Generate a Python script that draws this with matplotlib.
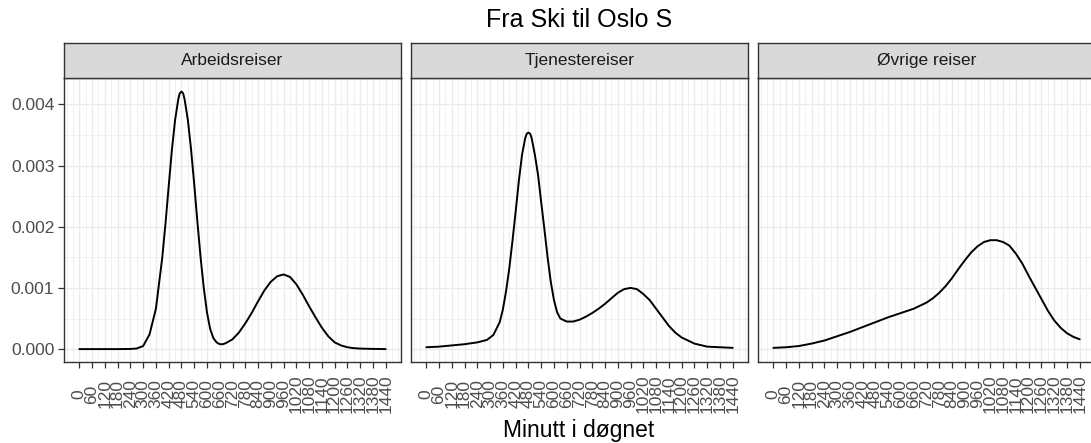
import matplotlib

matplotlib.use("Agg")

import matplotlib.pyplot as plt
from matplotlib.ticker import MultipleLocator

plt.rcParams["font.family"] = ["Liberation Sans", "DejaVu Sans"]

TITLE = "Fra Ski til Oslo S"
XLABEL = "Minutt i døgnet"
PANELS = ["Arbeidsreiser", "Tjenestereiser", "Øvrige reiser"]

# density curves (minute of day -> density)
arbeid_min = [0, 60, 120, 180, 240, 270, 300, 330, 360, 390, 405, 420, 435, 450,
              465, 472, 480, 488, 495, 510, 525, 540, 555, 570, 585, 600, 615, 630,
              645, 660, 675, 690, 720, 750, 780, 810, 840, 870, 900, 930, 960, 990,
              1020, 1050, 1080, 1110, 1140, 1170, 1200, 1230, 1260, 1290, 1320,
              1380, 1440]
arbeid_dens = [0, 0, 0, 0, 0.000002, 0.00001, 0.00005, 0.00024, 0.00066, 0.00150,
               0.00205, 0.00266, 0.00325, 0.00374, 0.00408, 0.00418, 0.00421,
               0.00418, 0.00408, 0.00375, 0.00327, 0.00270, 0.00208, 0.00150,
               0.00100, 0.00060, 0.00033, 0.00018, 0.00011, 0.00008, 0.00008,
               0.00010, 0.00016, 0.00027, 0.00042, 0.00059, 0.00078, 0.00096,
               0.00110, 0.00119, 0.00122, 0.00118, 0.00106, 0.00089, 0.00070,
               0.00052, 0.00035, 0.00021, 0.00011, 0.00006, 0.00003, 0.000015,
               0.000008, 0.000003, 0]

tjeneste_min = [0, 60, 120, 180, 240, 285, 315, 345, 360, 375, 390, 405, 420, 435,
                450, 465, 472, 480, 488, 495, 510, 525, 540, 555, 570, 585, 600,
                615, 630, 660, 690, 720, 750, 780, 810, 840, 870, 900, 930, 960,
                990, 1020, 1050, 1080, 1110, 1140, 1170, 1200, 1260, 1320, 1380,
                1440]
tjeneste_dens = [0.00003, 0.00004, 0.00006, 0.00008, 0.00011, 0.00015, 0.00023,
                 0.00044, 0.00065, 0.00095, 0.00132, 0.00177, 0.00225, 0.00275,
                 0.00318, 0.00345, 0.00352, 0.00354, 0.00352, 0.00345, 0.00318,
                 0.00285, 0.00240, 0.00196, 0.00150, 0.00110, 0.00080, 0.00060,
                 0.00050, 0.00045, 0.00045, 0.00048, 0.00053, 0.00059, 0.00066,
                 0.00074, 0.00083, 0.00092, 0.00098, 0.00100, 0.00098, 0.00090,
                 0.00080, 0.00066, 0.00052, 0.00038, 0.00027, 0.00019, 0.00009,
                 0.00004, 0.00003, 0.00002]

ovrige_min = [0, 60, 120, 180, 240, 300, 360, 420, 480, 540, 600, 660, 720, 750,
              780, 810, 840, 870, 900, 930, 960, 990, 1020, 1050, 1080, 1110,
              1140, 1170, 1200, 1230, 1260, 1290, 1320, 1350, 1380, 1410, 1440]
ovrige_dens = [0.00002, 0.00003, 0.00005, 0.00009, 0.00014, 0.00021, 0.00028,
               0.00036, 0.00044, 0.00052, 0.00059, 0.00066, 0.00076, 0.00083,
               0.00092, 0.00103, 0.00116, 0.00131, 0.00145, 0.00158, 0.00168,
               0.00175, 0.00178, 0.00178, 0.00175, 0.00169, 0.00156, 0.00140,
               0.00120, 0.00101, 0.00082, 0.00063, 0.00047, 0.00035, 0.00026,
               0.00020, 0.00016]

SERIES = [(arbeid_min, arbeid_dens), (tjeneste_min, tjeneste_dens),
          (ovrige_min, ovrige_dens)]

X_TICKS = list(range(0, 1441, 60))
Y_TICKS = [0.0, 0.001, 0.002, 0.003, 0.004]

BORDER = "#333333"
TEXT = "#4D4D4D"
GRID = "#EBEBEB"
STRIP = "#D9D9D9"

W, H = 1091, 443
fig = plt.figure(figsize=(W / 100, H / 100), dpi=100, facecolor="white")

lefts = [64, 411, 758]
pw = 337
top, bottom, strip_top = 78, 362, 43

for i, (name, (xs, ys)) in enumerate(zip(PANELS, SERIES)):
    ax = fig.add_axes([lefts[i] / W, 1 - bottom / H, pw / W, (bottom - top) / H])
    ax.set_facecolor("white")
    ax.plot(xs, ys, color="black", lw=1.4, solid_capstyle="round",
            solid_joinstyle="round", zorder=3)
    ax.set_xlim(-72, 1512)
    ax.set_ylim(-0.000211, 0.004431)

    ax.set_xticks(X_TICKS)
    ax.set_xticklabels([str(t) for t in X_TICKS], rotation=90, va="center",
                       color=TEXT, fontsize=12.5)
    ax.xaxis.set_minor_locator(MultipleLocator(30))
    ax.yaxis.set_minor_locator(MultipleLocator(0.0005))
    ax.set_yticks(Y_TICKS)
    ax.grid(True, which="major", color=GRID, lw=1.0, zorder=0)
    ax.grid(True, which="minor", color=GRID, lw=0.5, zorder=0)
    ax.set_axisbelow(True)
    ax.tick_params(axis="x", which="major", length=4, width=0.9, color=BORDER,
                   pad=19)
    ax.tick_params(which="minor", length=0)
    if i == 0:
        ax.set_yticklabels([f"{v:.3f}" for v in Y_TICKS], color=TEXT, fontsize=12.5)
        ax.tick_params(axis="y", which="major", length=4, width=0.9, color=BORDER,
                       pad=3)
    else:
        ax.tick_params(axis="y", which="major", length=0, labelleft=False)
    for sp in ax.spines.values():
        sp.set_color(BORDER)
        sp.set_linewidth(1.0)

    sax = fig.add_axes([lefts[i] / W, 1 - top / H, pw / W, (top - strip_top) / H])
    sax.set_facecolor(STRIP)
    sax.set_xticks([])
    sax.set_yticks([])
    for sp in sax.spines.values():
        sp.set_color(BORDER)
        sp.set_linewidth(1.0)
    sax.text(0.5, 0.5, name, transform=sax.transAxes, ha="center", va="center",
             color="#1A1A1A", fontsize=12.5)

fig.text(579 / W, 1 - 20 / H, TITLE, ha="center", va="center", fontsize=18,
         color="black")
fig.text(579 / W, 1 - 431 / H, XLABEL, ha="center", va="center", fontsize=16.5,
         color="black")

fig.savefig("out.png", dpi=100, facecolor="white")
